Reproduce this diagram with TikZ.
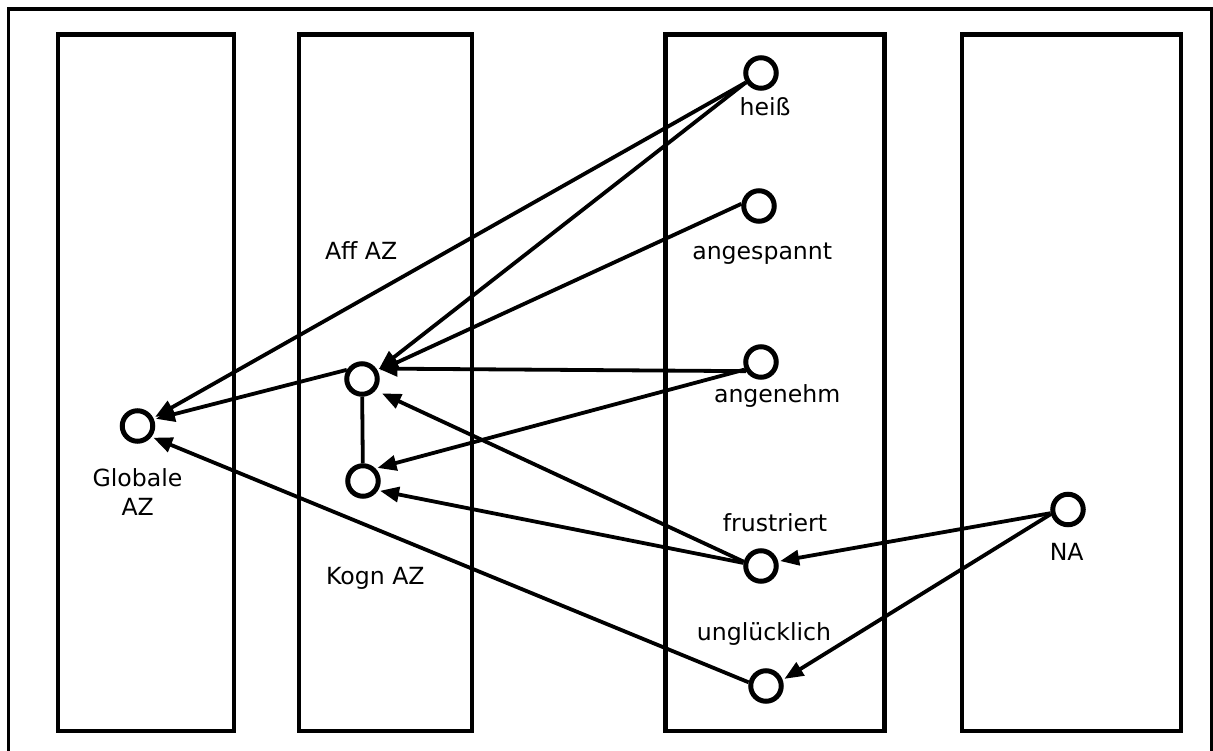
\documentclass[tikz,border=0pt]{standalone}
\usepackage{fontspec}
\setmainfont{DejaVu Sans}
\usetikzlibrary{arrows.meta}
\begin{document}
\begin{tikzpicture}[x=1pt,y=-1pt,
  box/.style={draw, line width=4.6pt},
  frame/.style={draw, line width=3.5pt},
  dot/.style={circle, draw, line width=5pt, minimum size=30.5pt, inner sep=0pt},
  lbl/.style={font=\fontsize{23.6}{28}\selectfont, inner sep=0pt, anchor=base},
  conn/.style={line width=3.8pt, shorten >=2pt, -{Triangle[length=19pt,width=15pt]}},
  link/.style={line width=3.8pt}]
\useasboundingbox (0,0) rectangle (1213,751);
\draw[frame] (8.7,9) rectangle (1211.5,775);
\draw[box] (58,34.5) rectangle (234,731);
\draw[box] (299,34.5) rectangle (472,731);
\draw[box] (665.5,34.5) rectangle (884.5,731);
\draw[box] (962,34.5) rectangle (1181,731);

\node[dot] (G) at (137.5,426) {};
\node[dot] (Aff) at (362,379) {};
\node[dot] (Kogn) at (363,481) {};
\node[dot] (hei) at (761,73) {};
\node[dot] (ang) at (759,206) {};
\node[dot] (angn) at (761,362) {};
\node[dot] (fru) at (761,566) {};
\node[dot] (ung) at (766,686) {};
\node[dot] (NA) at (1068,509.5) {};

\node[lbl] (tAff) at (361.2,259.3) {Aff AZ};
\node[lbl] (tKogn) at (375.3,584.3) {Kogn AZ};
\node[lbl] (tG1) at (137.5,486.7) {Globale};
\node[lbl] (tG2) at (137.7,515) {AZ};
\node[lbl] (thei) at (765,116) {heiß};
\node[lbl] (tang) at (762.2,259.3) {angespannt};
\node[lbl] (tangn) at (777.2,402) {angenehm};
\node[lbl] (tfru) at (775,531.7) {frustriert};
\node[lbl] (tung) at (764,640.7) {unglücklich};
\node[lbl] (tNA) at (1066.7,560) {NA};

\draw[conn] (hei.212) -- (G.27);
\draw[conn] (hei.212) -- (Aff.30);
\draw[conn] (ang.173) -- (Aff.26);
\draw[conn] (angn.211) -- (Aff.36);
\draw[conn] (angn.205) -- (Kogn.45);
\draw[conn, shorten >=7pt] (fru.166) -- (Aff.-40);
\draw[conn] (fru.170) -- (Kogn.-32);
\draw[conn] (NA.192) -- (fru.15);
\draw[conn] (NA.195) -- (ung.20);
\draw[conn] (ung.168) -- (G.-38);
\draw[conn] (Aff.149) -- (G.22);
\draw[link] (Aff) -- (Kogn);
\end{tikzpicture}
\end{document}
